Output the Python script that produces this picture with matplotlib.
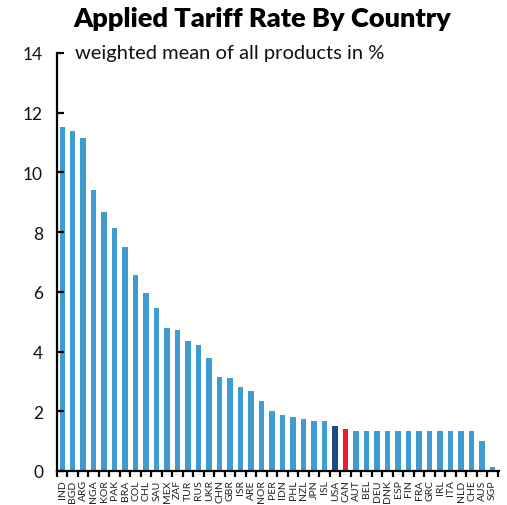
import matplotlib
matplotlib.use("Agg")
import matplotlib.pyplot as plt

countries = ["IND", "BGD", "ARG", "NGA", "KOR", "PAK", "BRA", "COL", "CHL", "SAU",
             "MEX", "ZAF", "TUR", "RUS", "UKR", "CHN", "GBR", "ISR", "ARE", "NOR",
             "PER", "IDN", "PHL", "NZL", "JPN", "ISL", "USA", "CAN", "AUT", "BEL",
             "DEU", "DNK", "ESP", "FIN", "FRA", "GRC", "IRL", "ITA", "NLD", "CHE",
             "AUS", "SGP"]
rates = [11.52, 11.40, 11.16, 9.41, 8.68, 8.13, 7.49, 6.57, 5.95, 5.45,
         4.79, 4.71, 4.36, 4.21, 3.77, 3.14, 3.10, 2.80, 2.67, 2.35,
         2.00, 1.87, 1.80, 1.73, 1.67, 1.66, 1.52, 1.41, 1.35, 1.35,
         1.35, 1.35, 1.35, 1.35, 1.35, 1.35, 1.35, 1.35, 1.35, 1.34,
         1.01, 0.14]
yticks = [0, 2, 4, 6, 8, 10, 12, 14]

plt.rcParams["font.family"] = ["Lato", "DejaVu Sans"]

colors = []
for c in countries:
    if c == "USA":
        colors.append("#1f4a7c")
    elif c == "CAN":
        colors.append("#ec1c2e")
    else:
        colors.append("#409bcf")

fig = plt.figure(figsize=(5.07, 5.06), dpi=100)
ax = fig.add_axes([0.1124, 0.0672, 0.8716, 0.8261])

xs = range(len(countries))
ax.bar(xs, rates, width=0.52, color=colors)

ax.set_xlim(-0.42, len(countries) - 0.4)
ax.set_ylim(0, 14)

for s in ["top", "right"]:
    ax.spines[s].set_visible(False)
for s in ["left", "bottom"]:
    ax.spines[s].set_linewidth(1.6)
    ax.spines[s].set_color("black")

ax.set_yticks(yticks)
ax.set_yticklabels([str(v) for v in yticks], fontsize=12.5, color="#111111")
ax.tick_params(axis="y", direction="in", length=5, width=1.6, pad=10)

# tick marks between bars, labels at bar centres
ax.set_xticks([i - 0.5 for i in range(len(countries) + 1)])
ax.set_xticklabels([])
ax.tick_params(axis="x", which="major", direction="out", length=4, width=1.6)
ax.set_xticks(list(xs), minor=True)
ax.set_xticklabels(countries, minor=True, rotation=90, fontsize=7.5, color="#222222")
ax.tick_params(axis="x", which="minor", length=0, pad=6)

fig.text(0.518, 0.963, "Applied Tariff Rate By Country", ha="center", va="center",
         fontsize=19.5, fontweight="heavy")
ax.text(0.04, 1.0, "weighted mean of all products in %", transform=ax.transAxes,
        ha="left", va="center", fontsize=14.5, color="#111111")

fig.savefig("out.png", dpi=100)
